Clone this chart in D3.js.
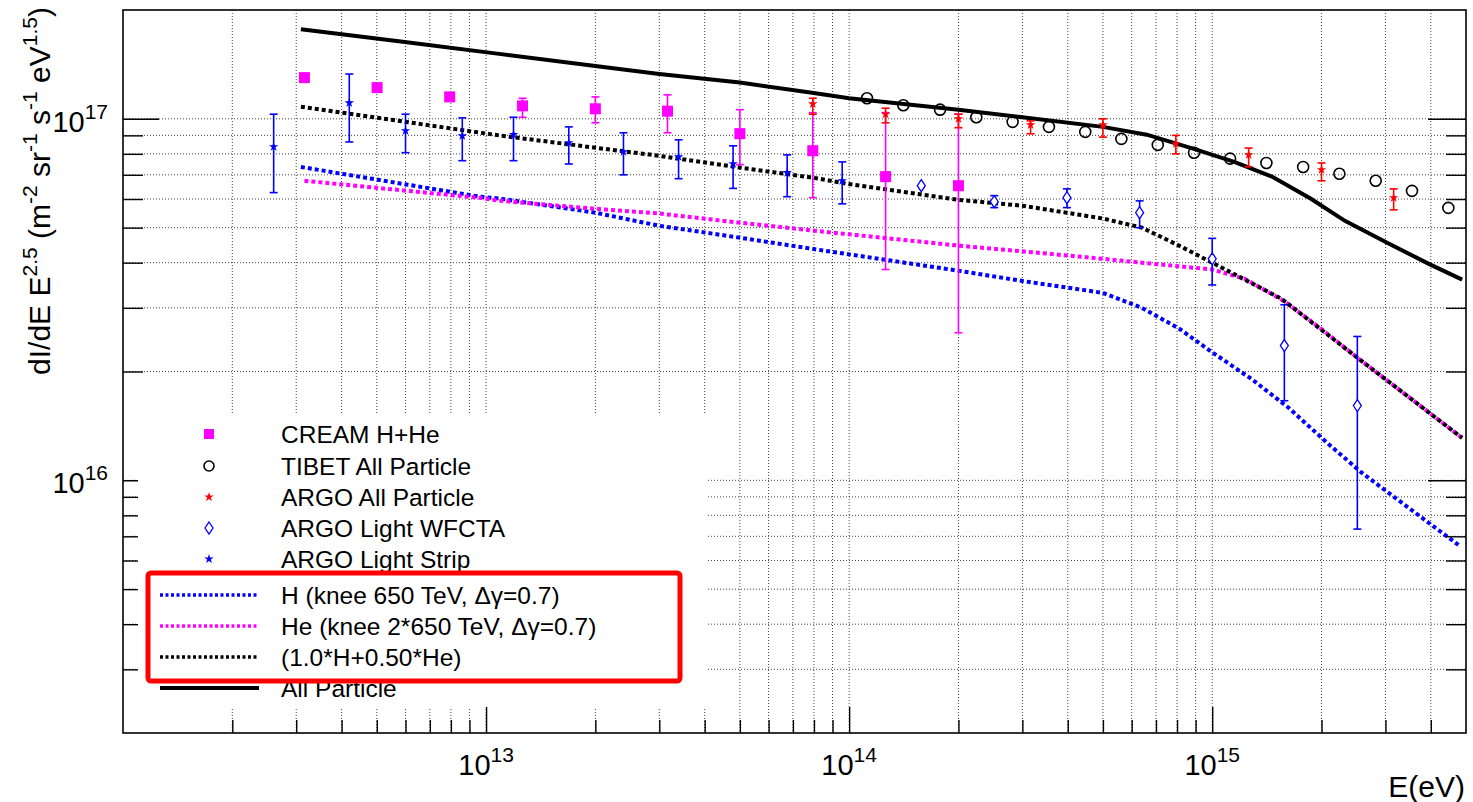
<!DOCTYPE html>
<html><head><meta charset="utf-8">
<script src="https://cdn.jsdelivr.net/npm/d3@7/dist/d3.min.js"></script>
<style>
body{margin:0;background:#fff;}
svg{display:block;font-family:"Liberation Sans",Arial,Helvetica,sans-serif;}
</style></head><body>
<svg id="chart" width="1473" height="802"></svg>
<script>
// ---------------- data ----------------
const xMajorTicks = [1e13, 1e14, 1e15];
const xTickLabels = ["13", "14", "15"];
const yMajorTicks = [1e16, 1e17];
const yTickLabels = ["16", "17"];

// CREAM H+He
const creamE    = [3.16e12, 5.01e12, 7.94e12, 1.26e13, 2.0e13, 3.16e13, 5.0e13, 7.94e13, 1.26e14, 2.0e14];
const creamFlux = [1.30e17, 1.22e17, 1.15e17, 1.086e17, 1.066e17, 1.05e17, 9.1e16, 8.16e16, 6.92e16, 6.53e16];
const creamLo   = [1.30e17, 1.22e17, 1.12e17, 1.01e17, 9.75e16, 9.15e16, 7.47e16, 6.05e16, 3.83e16, 2.56e16];
const creamHi   = [1.30e17, 1.22e17, 1.17e17, 1.14e17, 1.15e17, 1.165e17, 1.06e17, 1.04e17, 1.04e17, 1.03e17];

// TIBET All Particle
const tibetE    = [1.12e14, 1.41e14, 1.78e14, 2.24e14, 2.82e14, 3.55e14, 4.47e14, 5.62e14, 7.08e14, 8.91e14,
                   1.12e15, 1.41e15, 1.78e15, 2.24e15, 2.82e15, 3.55e15, 4.47e15];
const tibetFlux = [1.14e17, 1.09e17, 1.06e17, 1.01e17, 9.81e16, 9.5e16, 9.2e16, 8.8e16, 8.47e16, 8.06e16,
                   7.76e16, 7.55e16, 7.36e16, 7.05e16, 6.74e16, 6.32e16, 5.67e16];

// ARGO All Particle
const argoE    = [7.94e13, 1.26e14, 2.0e14, 3.16e14, 5.0e14, 7.94e14, 1.26e15, 2.0e15, 3.16e15];
const argoFlux = [1.10e17, 1.03e17, 1.0e17, 9.62e16, 9.62e16, 8.53e16, 7.95e16, 7.23e16, 6.05e16];
const argoLo   = [1.03e17, 9.75e16, 9.45e16, 9.09e16, 8.9e16, 8.0e16, 7.37e16, 6.74e16, 5.6e16];
const argoHi   = [1.14e17, 1.07e17, 1.03e17, 9.87e16, 1.0e17, 9.0e16, 8.3e16, 7.55e16, 6.4e16];

// ARGO Light WFCTA
const wfctaE    = [1.58e14, 2.51e14, 3.98e14, 6.31e14, 1.0e15, 1.58e15, 2.51e15];
const wfctaFlux = [6.53e16, 5.9e16, 6.05e16, 5.5e16, 4.1e16, 2.36e16, 1.61e16];
const wfctaLo   = [6.53e16, 5.68e16, 5.68e16, 5.0e16, 3.47e16, 1.66e16, 7.33e15];
const wfctaHi   = [6.53e16, 6.13e16, 6.4e16, 5.93e16, 4.67e16, 3.06e16, 2.5e16];

// ARGO Light Strip
const stripE    = [2.6e12, 4.2e12, 6.0e12, 8.6e12, 1.19e13, 1.69e13, 2.39e13, 3.39e13, 4.79e13, 6.75e13, 9.57e13];
const stripFlux = [8.37e16, 1.107e17, 9.27e16, 8.97e16, 9.04e16, 8.59e16, 8.11e16, 7.85e16, 7.51e16, 7.1e16, 6.74e16];
const stripLo   = [6.25e16, 8.63e16, 8.06e16, 7.66e16, 7.66e16, 7.5e16, 7.0e16, 6.83e16, 6.42e16, 6.09e16, 5.82e16];
const stripHi   = [1.03e17, 1.33e17, 1.03e17, 1.006e17, 1.01e17, 9.5e16, 9.15e16, 8.75e16, 8.42e16, 7.95e16, 7.6e16];

// Model curves
const hE    = [3.09e12, 9.5e12, 1.1e13, 2.0e13, 3.0e13, 5.0e13, 7.9e13, 2.0e14, 3.0e14, 5.0e14, 6.4e14, 8.1e14,
               1.0e15, 1.28e15, 1.62e15, 2.09e15, 2.58e15, 3.18e15, 4.79e15];
const hFlux = [7.36e16, 6.1e16, 6.01e16, 5.5e16, 5.06e16, 4.69e16, 4.37e16, 3.8e16, 3.56e16, 3.3e16, 3.0e16, 2.63e16,
               2.26e16, 1.91e16, 1.59e16, 1.26e16, 1.05e16, 8.97e15, 6.6e15];

const heE    = [3.16e12, 9.5e12, 1.1e13, 2.0e13, 3.0e13, 5.0e13, 7.9e13, 2.0e14, 3.0e14, 5.0e14, 6.4e14,
                1.0e15, 1.23e15, 1.58e15, 2.0e15, 2.53e15, 4.88e15];
const heFlux = [6.74e16, 6.05e16, 5.93e16, 5.64e16, 5.47e16, 5.16e16, 4.91e16, 4.46e16, 4.3e16, 4.1e16, 4.0e16,
                3.83e16, 3.61e16, 3.13e16, 2.62e16, 2.17e16, 1.31e16];

const sumE    = [3.09e12, 1.1e13, 2.0e13, 3.0e13, 5.0e13, 7.9e13, 1.0e14, 2.0e14, 3.0e14, 5.0e14, 6.4e14, 8.1e14,
                 1.0e15, 1.55e15, 2.53e15, 4.88e15];
const sumFlux = [1.08e17, 8.98e16, 8.32e16, 7.9e16, 7.33e16, 6.88e16, 6.6e16, 5.97e16, 5.75e16, 5.3e16, 5.0e16, 4.46e16,
                 4.0e16, 3.18e16, 2.17e16, 1.31e16];

const allE    = [3.09e12, 5.75e12, 1.1e13, 2.0e13, 3.0e13, 5.0e13, 7.9e13, 1.0e14, 2.0e14, 3.0e14, 5.0e14, 6.6e14,
                 8.9e14, 1.15e15, 1.46e15, 1.87e15, 2.32e15, 3.06e15, 3.95e15, 4.88e15];
const allFlux = [1.77e17, 1.64e17, 1.51e17, 1.40e17, 1.33e17, 1.26e17, 1.18e17, 1.14e17, 1.06e17, 1.01e17, 9.5e16, 9.04e16,
                 8.26e16, 7.6e16, 6.92e16, 6.01e16, 5.22e16, 4.52e16, 3.97e16, 3.59e16];

const legendLabels = ["CREAM H+He", "TIBET All Particle", "ARGO All Particle", "ARGO Light WFCTA", "ARGO Light Strip"];
const modelLabels = ["H (knee 650 TeV, \u0394\u03b3=0.7)", "He (knee 2*650 TeV, \u0394\u03b3=0.7)", "(1.0*H+0.50*He)", "All Particle"];

// ---------------- layout ----------------
const L = 123, R = 1466, T = 10, B = 733;
const MAG = "#ff00ff", RED = "#ff0000", BLUE = "#0000ff";
const svg = d3.select("#chart");
const x = d3.scaleLog().domain([1e12, 5e15]).range([L, R]);
const y = d3.scaleLog().domain([2e15, 2e17]).range([B, T]);

const zip = (a, b) => a.map((v, i) => [v, b[i]]);
const xAll = x.ticks().filter(v => v > 1e12 && v < 5e15);
const yAll = y.ticks().filter(v => v > 2e15 && v < 2e17);
const isMajor = v => Math.abs(Math.log10(v) - Math.round(Math.log10(v))) < 1e-6;
const xMinor = xAll.filter(v => !isMajor(v));
const yMinor = yAll.filter(v => !isMajor(v));

// grid
const grid = svg.append("g").attr("stroke", "#444").attr("stroke-width", 1).attr("stroke-dasharray", "1,2");
grid.selectAll("line.gx").data(xAll).join("line").attr("class", "gx")
  .attr("x1", d => x(d)).attr("x2", d => x(d)).attr("y1", T).attr("y2", B);
grid.selectAll("line.gy").data(yAll).join("line").attr("class", "gy")
  .attr("y1", d => y(d)).attr("y2", d => y(d)).attr("x1", L).attr("x2", R);

// curves
const line = d3.line().x(d => x(d[0])).y(d => y(d[1]));
const curves = svg.append("g").attr("fill", "none");
curves.append("path").datum(zip(hE, hFlux)).attr("d", line)
  .attr("stroke", BLUE).attr("stroke-width", 4).attr("stroke-dasharray", "4,3");
curves.append("path").datum(zip(heE, heFlux)).attr("d", line)
  .attr("stroke", MAG).attr("stroke-width", 4).attr("stroke-dasharray", "4,3");
curves.append("path").datum(zip(sumE, sumFlux)).attr("d", line)
  .attr("stroke", "#000").attr("stroke-width", 4).attr("stroke-dasharray", "4,3");
curves.append("path").datum(zip(allE, allFlux)).attr("d", line)
  .attr("stroke", "#000").attr("stroke-width", 4);

// error bars helper
function errorBars(E, lo, hi, color, cap) {
  const g = svg.append("g").attr("stroke", color).attr("stroke-width", 1.6);
  const d = E.map((e, i) => ({e, lo: lo[i], hi: hi[i]})).filter(d => d.hi > d.lo);
  g.selectAll("line.v").data(d).join("line").attr("class", "v")
    .attr("x1", d => x(d.e)).attr("x2", d => x(d.e)).attr("y1", d => y(d.lo)).attr("y2", d => y(d.hi));
  g.selectAll("line.c1").data(d).join("line").attr("class", "c1")
    .attr("x1", d => x(d.e) - cap).attr("x2", d => x(d.e) + cap).attr("y1", d => y(d.lo)).attr("y2", d => y(d.lo));
  g.selectAll("line.c2").data(d).join("line").attr("class", "c2")
    .attr("x1", d => x(d.e) - cap).attr("x2", d => x(d.e) + cap).attr("y1", d => y(d.hi)).attr("y2", d => y(d.hi));
}
errorBars(creamE, creamLo, creamHi, MAG, 4);
errorBars(argoE, argoLo, argoHi, RED, 4);
errorBars(wfctaE, wfctaLo, wfctaHi, BLUE, 4);
errorBars(stripE, stripLo, stripHi, BLUE, 4);

// markers
const star = d3.symbol(d3.symbolStar, 28)();
const diamond = "M0,-6L4,0L0,6L-4,0Z";
svg.append("g").selectAll("rect").data(zip(creamE, creamFlux)).join("rect")
  .attr("x", d => x(d[0]) - 5.5).attr("y", d => y(d[1]) - 5.5).attr("width", 11).attr("height", 11).attr("fill", MAG);
svg.append("g").selectAll("circle").data(zip(tibetE, tibetFlux)).join("circle")
  .attr("cx", d => x(d[0])).attr("cy", d => y(d[1])).attr("r", 5.5)
  .attr("fill", "none").attr("stroke", "#000").attr("stroke-width", 1.6);
svg.append("g").selectAll("path").data(zip(argoE, argoFlux)).join("path")
  .attr("d", star).attr("transform", d => `translate(${x(d[0])},${y(d[1])})`).attr("fill", RED);
svg.append("g").selectAll("path").data(zip(wfctaE, wfctaFlux)).join("path")
  .attr("d", diamond).attr("transform", d => `translate(${x(d[0])},${y(d[1])})`)
  .attr("fill", "#fff").attr("stroke", BLUE).attr("stroke-width", 1.3);
svg.append("g").selectAll("path").data(zip(stripE, stripFlux)).join("path")
  .attr("d", star).attr("transform", d => `translate(${x(d[0])},${y(d[1])})`).attr("fill", BLUE);

// axes (ticks inward)
function styleAxis(g) { g.select(".domain").remove(); g.selectAll(".tick line").attr("stroke", "#000").attr("stroke-width", 1.4); g.selectAll(".tick text").remove(); }
svg.append("g").attr("transform", `translate(0,${B})`).call(d3.axisBottom(x).tickValues(xMinor).tickSize(-13).tickFormat("")).call(styleAxis);
svg.append("g").attr("transform", `translate(0,${B})`).call(d3.axisBottom(x).tickValues(xMajorTicks).tickSize(-26).tickFormat("")).call(styleAxis);
svg.append("g").attr("transform", `translate(${L},0)`).call(d3.axisLeft(y).tickValues(yMinor).tickSize(-20).tickFormat("")).call(styleAxis);
svg.append("g").attr("transform", `translate(${L},0)`).call(d3.axisLeft(y).tickValues(yMajorTicks).tickSize(-36).tickFormat("")).call(styleAxis);
svg.append("g").attr("transform", `translate(${R},0)`).call(d3.axisRight(y).tickValues(yMinor).tickSize(-20).tickFormat("")).call(styleAxis);
svg.append("g").attr("transform", `translate(${R},0)`).call(d3.axisRight(y).tickValues(yMajorTicks).tickSize(-38).tickFormat("")).call(styleAxis);

// frame
svg.append("rect").attr("x", L).attr("y", T).attr("width", R - L).attr("height", B - T)
  .attr("fill", "none").attr("stroke", "#000").attr("stroke-width", 1.6);

// tick labels
xMajorTicks.forEach((v, i) => {
  const t = svg.append("text").attr("x", x(v)).attr("y", 775).attr("text-anchor", "middle")
    .attr("font-size", 29).attr("fill", "#000");
  t.append("tspan").text("10");
  t.append("tspan").attr("dy", -13).attr("font-size", 21).text(xTickLabels[i]);
});
yMajorTicks.forEach((v, i) => {
  const t = svg.append("text").attr("x", 108).attr("y", y(v) + 13).attr("text-anchor", "end")
    .attr("font-size", 29).attr("fill", "#000");
  t.append("tspan").text("10");
  t.append("tspan").attr("dy", -13).attr("font-size", 21).text(yTickLabels[i]);
});

// axis titles
svg.append("text").attr("x", 1465).attr("y", 797).attr("text-anchor", "end").attr("font-size", 30).text("E(eV)");
const yt = svg.append("text").attr("transform", "translate(50,191) rotate(-90)").attr("text-anchor", "middle").attr("font-size", 30);
const ytParts = [["dI/dE E", 0], ["2.5", 1], [" (m", 0], ["-2", 1], [" sr", 0], ["-1", 1], [" s", 0], ["-1", 1], [" eV", 0], ["1.5", 1], [")", 0]];
ytParts.forEach(([s, sup], i) => {
  const prevSup = i > 0 && ytParts[i - 1][1];
  const sp = yt.append("tspan").text(s);
  if (sup) sp.attr("font-size", 21).attr("dy", -13);
  else { sp.attr("font-size", 30); if (prevSup) sp.attr("dy", 13); }
});

// legend
svg.append("rect").attr("x", 138).attr("y", 415).attr("width", 569).attr("height", 292).attr("fill", "#fff");
const rows1 = [434, 466, 497, 528, 559];
const rows2 = [595, 626, 657, 688];
const lg = svg.append("g").attr("font-size", 24.5).attr("fill", "#000");
legendLabels.forEach((s, i) => lg.append("text").attr("x", 281).attr("y", rows1[i] + 9).text(s));
modelLabels.forEach((s, i) => lg.append("text").attr("x", 281).attr("y", rows2[i] + 9).text(s));
const mx = 209;
lg.append("rect").attr("x", mx - 5).attr("y", rows1[0] - 5).attr("width", 10).attr("height", 10).attr("fill", MAG);
lg.append("circle").attr("cx", mx).attr("cy", rows1[1]).attr("r", 5).attr("fill", "none").attr("stroke", "#000").attr("stroke-width", 1.6);
lg.append("path").attr("d", star).attr("transform", `translate(${mx},${rows1[2]})`).attr("fill", RED);
lg.append("path").attr("d", diamond).attr("transform", `translate(${mx},${rows1[3]})`).attr("fill", "#fff").attr("stroke", BLUE).attr("stroke-width", 1.3);
lg.append("path").attr("d", star).attr("transform", `translate(${mx},${rows1[4]})`).attr("fill", BLUE);
const sampleColors = [BLUE, MAG, "#000"];
sampleColors.forEach((c, i) => lg.append("line").attr("x1", 160).attr("x2", 259).attr("y1", rows2[i]).attr("y2", rows2[i])
  .attr("stroke", c).attr("stroke-width", 3.5).attr("stroke-dasharray", "3,2.5"));
lg.append("line").attr("x1", 160).attr("x2", 259).attr("y1", rows2[3]).attr("y2", rows2[3]).attr("stroke", "#000").attr("stroke-width", 4);

// red highlight box
svg.append("rect").attr("x", 148).attr("y", 573).attr("width", 532).attr("height", 108).attr("rx", 3)
  .attr("fill", "none").attr("stroke", RED).attr("stroke-width", 5);
</script>
</body></html>
